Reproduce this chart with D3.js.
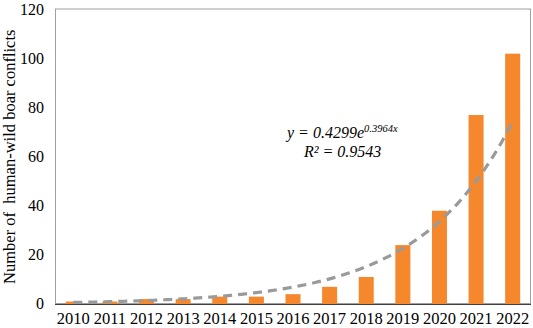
<!DOCTYPE html>
<html>
<head>
<meta charset="utf-8">
<script src="https://cdn.jsdelivr.net/npm/d3@7"></script>
<style>
  html, body { margin: 0; padding: 0; background: #fff; }
  svg { display: block; }
  text { font-family: "Liberation Serif", "Times New Roman", serif; fill: #000; }
</style>
</head>
<body>
<svg id="chart" width="533" height="328"></svg>
<script>
// Annual number of human–wild boar conflicts
const years = ["2010", "2011", "2012", "2013", "2014", "2015", "2016",
               "2017", "2018", "2019", "2020", "2021", "2022"];
const conflicts = [1, 1, 2, 2, 3, 3, 4, 7, 11, 24, 38, 77, 102];
const yTicks = [0, 20, 40, 60, 80, 100, 120];

// Exponential trendline y = a·e^(b·x), x = 1..13
const trendA = 0.4299;
const trendB = 0.3964;
const equationLabel = "y = 0.4299e";
const equationExp = "0.3964x";
const r2Label = "R² = 0.9543";

const svg = d3.select("#chart");
const margin = { left: 55, right: 2, top: 9.5, bottom: 24 };
const W = 533, H = 328;

const x = d3.scaleBand()
  .domain(years)
  .range([margin.left, W - margin.right])
  .paddingInner(0.59)
  .paddingOuter(0.295);

const y = d3.scaleLinear()
  .domain([0, 120])
  .range([H - margin.bottom, margin.top]);

// plot frame
svg.append("rect")
  .attr("x", margin.left + 0.5)
  .attr("y", y(120) - 0.5)
  .attr("width", W - margin.right - margin.left - 1)
  .attr("height", y(0) - y(120))
  .attr("fill", "none")
  .attr("stroke", "#a0a0a0")
  .attr("stroke-width", 1);

// bars
svg.append("g")
  .selectAll("rect")
  .data(years)
  .join("rect")
  .attr("x", d => x(d))
  .attr("width", x.bandwidth())
  .attr("y", (d, i) => y(conflicts[i]))
  .attr("height", (d, i) => y(0) - y(conflicts[i]))
  .attr("fill", "#f5872c");

// exponential trendline
const trendPts = d3.range(1, 13.001, 0.1).map(t => ({
  px: x(years[0]) + x.bandwidth() / 2 + (t - 1) * x.step(),
  v: trendA * Math.exp(trendB * t)
}));
svg.append("path")
  .datum(trendPts)
  .attr("fill", "none")
  .attr("stroke", "#9a9a9a")
  .attr("stroke-width", 3.2)
  .attr("stroke-dasharray", "9,6")
  .attr("d", d3.line().x(d => d.px).y(d => y(d.v)).curve(d3.curveMonotoneX));

// bottom axis line
svg.append("line")
  .attr("x1", margin.left)
  .attr("x2", W - margin.right)
  .attr("y1", y(0) + 0.5)
  .attr("y2", y(0) + 0.5)
  .attr("stroke", "#404040")
  .attr("stroke-width", 1.2);

// y axis
const yAxis = svg.append("g")
  .attr("transform", `translate(${margin.left},0)`)
  .call(d3.axisLeft(y).tickValues(yTicks).tickSize(0).tickPadding(11));
yAxis.select(".domain").remove();
yAxis.selectAll("text")
  .attr("dy", "0.3em")
  .style("font-family", "'Liberation Serif', serif")
  .style("font-size", "16px");

// x axis
const xAxis = svg.append("g")
  .attr("transform", `translate(0,${y(0)})`)
  .call(d3.axisBottom(x).tickSize(0).tickPadding(8));
xAxis.select(".domain").remove();
xAxis.selectAll("text")
  .style("font-family", "'Liberation Serif', serif")
  .style("font-size", "16.5px");

// y axis title
svg.append("text")
  .attr("transform", `translate(15,${(y(0) + y(120)) / 2}) rotate(-90)`)
  .attr("text-anchor", "middle")
  .style("font-size", "16.5px")
  .style("white-space", "pre")
  .text("Number of  human-wild boar conflicts");

// trendline equation
const eq = svg.append("text")
  .attr("x", 287)
  .attr("y", 138)
  .style("font-size", "16px")
  .style("font-style", "italic");
eq.append("tspan").text(equationLabel);
eq.append("tspan")
  .attr("dy", -6)
  .style("font-size", "10.5px")
  .text(equationExp);

svg.append("text")
  .attr("x", 304)
  .attr("y", 157)
  .style("font-size", "16px")
  .style("font-style", "italic")
  .text(r2Label);
</script>
</body>
</html>
